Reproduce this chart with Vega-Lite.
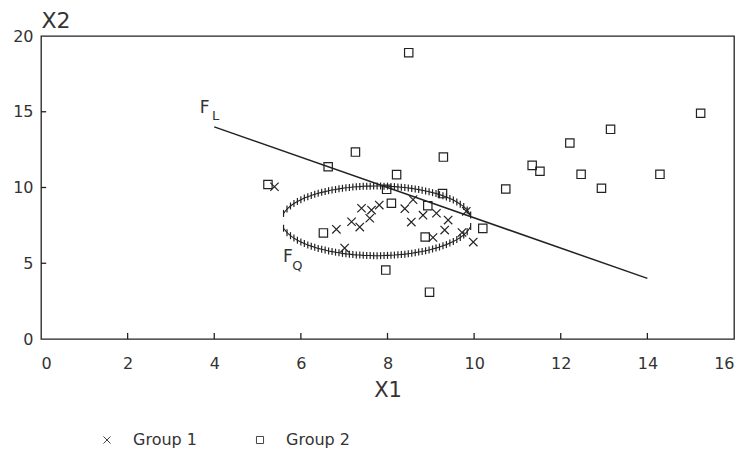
{
  "$schema": "https://vega.github.io/schema/vega-lite/v6.json",
  "width": 693,
  "height": 303,
  "autosize": {"type": "none"},
  "padding": {"left": 41, "top": 36, "right": 12, "bottom": 117},
  "background": "white",
  "config": {
    "view": {"stroke": "#222", "strokeWidth": 1.3},
    "font": "DejaVu Sans",
    "axis": {
      "grid": false,
      "domain": false,
      "ticks": false,
      "tickSize": 0,
      "labelFont": "DejaVu Sans",
      "labelFontSize": 16,
      "labelColor": "#333",
      "titleFont": "DejaVu Sans",
      "titleFontWeight": "normal",
      "titleColor": "#333"
    }
  },
  "datasets": {
    "ellipse": [
      {"x": 5.6, "y": 8.29, "branch": "upper"}, {"x": 5.68, "y": 8.58, "branch": "upper"}, {"x": 5.76, "y": 8.78, "branch": "upper"}, {"x": 5.84, "y": 8.94, "branch": "upper"},
      {"x": 5.92, "y": 9.08, "branch": "upper"}, {"x": 6.0, "y": 9.19, "branch": "upper"}, {"x": 6.08, "y": 9.3, "branch": "upper"}, {"x": 6.16, "y": 9.39, "branch": "upper"},
      {"x": 6.24, "y": 9.47, "branch": "upper"}, {"x": 6.32, "y": 9.55, "branch": "upper"}, {"x": 6.4, "y": 9.62, "branch": "upper"}, {"x": 6.48, "y": 9.68, "branch": "upper"},
      {"x": 6.56, "y": 9.73, "branch": "upper"}, {"x": 6.64, "y": 9.79, "branch": "upper"}, {"x": 6.72, "y": 9.83, "branch": "upper"}, {"x": 6.8, "y": 9.87, "branch": "upper"},
      {"x": 6.88, "y": 9.91, "branch": "upper"}, {"x": 6.96, "y": 9.95, "branch": "upper"}, {"x": 7.04, "y": 9.98, "branch": "upper"}, {"x": 7.12, "y": 10.0, "branch": "upper"},
      {"x": 7.2, "y": 10.03, "branch": "upper"}, {"x": 7.28, "y": 10.05, "branch": "upper"}, {"x": 7.36, "y": 10.06, "branch": "upper"}, {"x": 7.44, "y": 10.08, "branch": "upper"},
      {"x": 7.52, "y": 10.09, "branch": "upper"}, {"x": 7.6, "y": 10.09, "branch": "upper"}, {"x": 7.68, "y": 10.1, "branch": "upper"}, {"x": 7.76, "y": 10.1, "branch": "upper"},
      {"x": 7.84, "y": 10.1, "branch": "upper"}, {"x": 7.92, "y": 10.09, "branch": "upper"}, {"x": 8.0, "y": 10.09, "branch": "upper"}, {"x": 8.08, "y": 10.07, "branch": "upper"},
      {"x": 8.16, "y": 10.06, "branch": "upper"}, {"x": 8.24, "y": 10.04, "branch": "upper"}, {"x": 8.32, "y": 10.02, "branch": "upper"}, {"x": 8.4, "y": 10.0, "branch": "upper"},
      {"x": 8.48, "y": 9.97, "branch": "upper"}, {"x": 8.56, "y": 9.94, "branch": "upper"}, {"x": 8.64, "y": 9.9, "branch": "upper"}, {"x": 8.72, "y": 9.86, "branch": "upper"},
      {"x": 8.8, "y": 9.82, "branch": "upper"}, {"x": 8.88, "y": 9.77, "branch": "upper"}, {"x": 8.96, "y": 9.72, "branch": "upper"}, {"x": 9.04, "y": 9.66, "branch": "upper"},
      {"x": 9.12, "y": 9.6, "branch": "upper"}, {"x": 9.2, "y": 9.53, "branch": "upper"}, {"x": 9.28, "y": 9.45, "branch": "upper"}, {"x": 9.36, "y": 9.37, "branch": "upper"},
      {"x": 9.44, "y": 9.27, "branch": "upper"}, {"x": 9.52, "y": 9.17, "branch": "upper"}, {"x": 9.6, "y": 9.04, "branch": "upper"}, {"x": 9.68, "y": 8.9, "branch": "upper"},
      {"x": 9.76, "y": 8.74, "branch": "upper"}, {"x": 9.84, "y": 8.52, "branch": "upper"}, {"x": 9.92, "y": 8.18, "branch": "upper"},
      {"x": 5.6, "y": 7.31, "branch": "lower"}, {"x": 5.68, "y": 7.02, "branch": "lower"}, {"x": 5.76, "y": 6.82, "branch": "lower"}, {"x": 5.84, "y": 6.66, "branch": "lower"},
      {"x": 5.92, "y": 6.52, "branch": "lower"}, {"x": 6.0, "y": 6.41, "branch": "lower"}, {"x": 6.08, "y": 6.3, "branch": "lower"}, {"x": 6.16, "y": 6.21, "branch": "lower"},
      {"x": 6.24, "y": 6.13, "branch": "lower"}, {"x": 6.32, "y": 6.05, "branch": "lower"}, {"x": 6.4, "y": 5.98, "branch": "lower"}, {"x": 6.48, "y": 5.92, "branch": "lower"},
      {"x": 6.56, "y": 5.87, "branch": "lower"}, {"x": 6.64, "y": 5.81, "branch": "lower"}, {"x": 6.72, "y": 5.77, "branch": "lower"}, {"x": 6.8, "y": 5.73, "branch": "lower"},
      {"x": 6.88, "y": 5.69, "branch": "lower"}, {"x": 6.96, "y": 5.65, "branch": "lower"}, {"x": 7.04, "y": 5.62, "branch": "lower"}, {"x": 7.12, "y": 5.6, "branch": "lower"},
      {"x": 7.2, "y": 5.57, "branch": "lower"}, {"x": 7.28, "y": 5.55, "branch": "lower"}, {"x": 7.36, "y": 5.54, "branch": "lower"}, {"x": 7.44, "y": 5.52, "branch": "lower"},
      {"x": 7.52, "y": 5.51, "branch": "lower"}, {"x": 7.6, "y": 5.51, "branch": "lower"}, {"x": 7.68, "y": 5.5, "branch": "lower"}, {"x": 7.76, "y": 5.5, "branch": "lower"},
      {"x": 7.84, "y": 5.5, "branch": "lower"}, {"x": 7.92, "y": 5.51, "branch": "lower"}, {"x": 8.0, "y": 5.52, "branch": "lower"}, {"x": 8.08, "y": 5.53, "branch": "lower"},
      {"x": 8.16, "y": 5.54, "branch": "lower"}, {"x": 8.24, "y": 5.56, "branch": "lower"}, {"x": 8.32, "y": 5.58, "branch": "lower"}, {"x": 8.4, "y": 5.6, "branch": "lower"},
      {"x": 8.48, "y": 5.63, "branch": "lower"}, {"x": 8.56, "y": 5.66, "branch": "lower"}, {"x": 8.64, "y": 5.7, "branch": "lower"}, {"x": 8.72, "y": 5.74, "branch": "lower"},
      {"x": 8.8, "y": 5.78, "branch": "lower"}, {"x": 8.88, "y": 5.83, "branch": "lower"}, {"x": 8.96, "y": 5.88, "branch": "lower"}, {"x": 9.04, "y": 5.94, "branch": "lower"},
      {"x": 9.12, "y": 6.0, "branch": "lower"}, {"x": 9.2, "y": 6.07, "branch": "lower"}, {"x": 9.28, "y": 6.15, "branch": "lower"}, {"x": 9.36, "y": 6.23, "branch": "lower"},
      {"x": 9.44, "y": 6.33, "branch": "lower"}, {"x": 9.52, "y": 6.43, "branch": "lower"}, {"x": 9.6, "y": 6.56, "branch": "lower"}, {"x": 9.68, "y": 6.7, "branch": "lower"},
      {"x": 9.76, "y": 6.87, "branch": "lower"}, {"x": 9.84, "y": 7.08, "branch": "lower"}, {"x": 9.92, "y": 7.42, "branch": "lower"}
    ],
    "fl": [
      {"x": 4, "y": 14},
      {"x": 14, "y": 4}
    ],
    "xticks": [
      {"x": 2, "y": 0, "y2": 0.4}, {"x": 4, "y": 0, "y2": 0.4}, {"x": 6, "y": 0, "y2": 0.4}, {"x": 8, "y": 0, "y2": 0.4},
      {"x": 10, "y": 0, "y2": 0.4}, {"x": 12, "y": 0, "y2": 0.4}, {"x": 14, "y": 0, "y2": 0.4}
    ],
    "yticks": [
      {"x": 0, "x2": 0.12, "y": 5}, {"x": 0, "x2": 0.12, "y": 10}, {"x": 0, "x2": 0.12, "y": 15}
    ],
    "points": [
      {"x": 5.39, "y": 10.05, "group": "Group 1"},
      {"x": 6.82, "y": 7.24, "group": "Group 1"},
      {"x": 7.17, "y": 7.74, "group": "Group 1"},
      {"x": 7.36, "y": 7.39, "group": "Group 1"},
      {"x": 7.4, "y": 8.63, "group": "Group 1"},
      {"x": 7.63, "y": 8.51, "group": "Group 1"},
      {"x": 7.59, "y": 7.97, "group": "Group 1"},
      {"x": 7.81, "y": 8.84, "group": "Group 1"},
      {"x": 7.01, "y": 6.0, "group": "Group 1"},
      {"x": 8.4, "y": 8.6, "group": "Group 1"},
      {"x": 8.55, "y": 7.72, "group": "Group 1"},
      {"x": 8.59, "y": 9.2, "group": "Group 1"},
      {"x": 8.82, "y": 8.17, "group": "Group 1"},
      {"x": 9.13, "y": 8.3, "group": "Group 1"},
      {"x": 9.4, "y": 7.85, "group": "Group 1"},
      {"x": 9.32, "y": 7.19, "group": "Group 1"},
      {"x": 9.05, "y": 6.7, "group": "Group 1"},
      {"x": 9.72, "y": 7.03, "group": "Group 1"},
      {"x": 9.98, "y": 6.4, "group": "Group 1"},
      {"x": 9.82, "y": 8.43, "group": "Group 1"},
      {"x": 5.24, "y": 10.2, "group": "Group 2"},
      {"x": 6.63, "y": 11.37, "group": "Group 2"},
      {"x": 7.26, "y": 12.34, "group": "Group 2"},
      {"x": 8.49, "y": 18.9, "group": "Group 2"},
      {"x": 15.23, "y": 14.9, "group": "Group 2"},
      {"x": 13.15, "y": 13.84, "group": "Group 2"},
      {"x": 12.21, "y": 12.94, "group": "Group 2"},
      {"x": 9.29, "y": 12.01, "group": "Group 2"},
      {"x": 11.34, "y": 11.46, "group": "Group 2"},
      {"x": 11.52, "y": 11.07, "group": "Group 2"},
      {"x": 12.47, "y": 10.87, "group": "Group 2"},
      {"x": 14.29, "y": 10.87, "group": "Group 2"},
      {"x": 10.73, "y": 9.9, "group": "Group 2"},
      {"x": 12.94, "y": 9.95, "group": "Group 2"},
      {"x": 8.21, "y": 10.85, "group": "Group 2"},
      {"x": 7.98, "y": 9.88, "group": "Group 2"},
      {"x": 8.09, "y": 8.96, "group": "Group 2"},
      {"x": 9.27, "y": 9.6, "group": "Group 2"},
      {"x": 8.93, "y": 8.8, "group": "Group 2"},
      {"x": 8.87, "y": 6.73, "group": "Group 2"},
      {"x": 10.2, "y": 7.3, "group": "Group 2"},
      {"x": 7.96, "y": 4.55, "group": "Group 2"},
      {"x": 8.97, "y": 3.09, "group": "Group 2"},
      {"x": 6.52, "y": 7.0, "group": "Group 2"}
    ],
    "labels": [
      {"x": 3.78, "y": 14.92, "t": "F", "kind": "main"},
      {"x": 4.03, "y": 14.46, "t": "L", "kind": "sub"},
      {"x": 5.7, "y": 5.08, "t": "F", "kind": "main"},
      {"x": 5.92, "y": 4.55, "t": "Q", "kind": "sub"}
    ]
  },
  "encoding": {
    "x": {
      "field": "x",
      "type": "quantitative",
      "scale": {"domain": [0, 16], "nice": false, "zero": false},
      "axis": {
        "values": [0, 2, 4, 6, 8, 10, 12, 14, 16],
        "title": "X1",
        "titleFontSize": 21,
        "labelPadding": 16,
        "titleY": 57,
        "titleBaseline": "alphabetic"
      }
    },
    "y": {
      "field": "y",
      "type": "quantitative",
      "scale": {"domain": [0, 20], "nice": false, "zero": false},
      "axis": {
        "values": [0, 5, 10, 15, 20],
        "title": "X2",
        "titleFontSize": 22,
        "titleAngle": 0,
        "titleAlign": "left",
        "titleBaseline": "alphabetic",
        "titleX": 0,
        "titleY": -9,
        "labelPadding": 8
      }
    }
  },
  "layer": [
    {
      "data": {"name": "xticks"},
      "mark": {"type": "rule", "color": "#222", "strokeWidth": 1.3},
      "encoding": {"y2": {"field": "y2"}}
    },
    {
      "data": {"name": "yticks"},
      "mark": {"type": "rule", "color": "#222", "strokeWidth": 1.3},
      "encoding": {"x2": {"field": "x2"}}
    },
    {
      "data": {"name": "ellipse"},
      "mark": {"type": "line", "color": "#222", "strokeWidth": 1.1},
      "encoding": {"detail": {"field": "branch"}}
    },
    {
      "data": {"name": "ellipse"},
      "mark": {"type": "point", "shape": "M0,-1L0,1", "size": 49, "filled": false, "color": "#222", "strokeWidth": 1.2, "opacity": 1}
    },
    {
      "data": {"name": "fl"},
      "mark": {"type": "line", "color": "#222", "strokeWidth": 1.5}
    },
    {
      "data": {"name": "points"},
      "mark": {"type": "point", "filled": false, "color": "#222", "strokeWidth": 1.2, "size": 70, "opacity": 1},
      "encoding": {
        "shape": {
          "field": "group",
          "type": "nominal",
          "scale": {"domain": ["Group 1", "Group 2"], "range": ["M-1,-1L1,1M-1,1L1,-1", "square"]},
          "legend": {
            "title": null,
            "orient": "none",
            "direction": "horizontal",
            "legendX": 58,
            "legendY": 396,
            "padding": 0,
            "labelFont": "DejaVu Sans",
            "labelFontSize": 16,
            "labelColor": "#333",
            "labelOffset": 18,
            "columnPadding": 55,
            "symbolSize": 50,
            "symbolStrokeColor": "#444",
            "symbolStrokeWidth": 1
          }
        }
      }
    },
    {
      "data": {"name": "labels"},
      "transform": [{"filter": "datum.kind === 'main'"}],
      "mark": {"type": "text", "font": "DejaVu Sans", "fontSize": 17, "fill": "#333", "baseline": "alphabetic"},
      "encoding": {"text": {"field": "t"}}
    },
    {
      "data": {"name": "labels"},
      "transform": [{"filter": "datum.kind === 'sub'"}],
      "mark": {"type": "text", "font": "DejaVu Sans", "fontSize": 13, "fill": "#333", "baseline": "alphabetic"},
      "encoding": {"text": {"field": "t"}}
    }
  ]
}
